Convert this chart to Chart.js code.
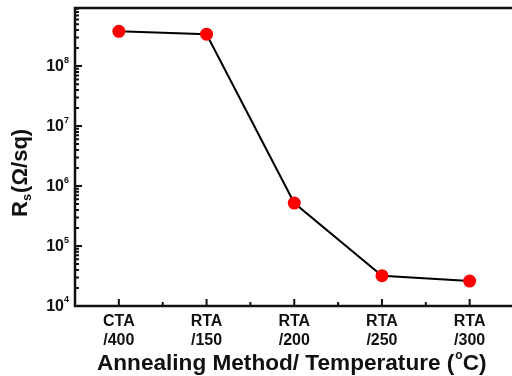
<!DOCTYPE html>
<html>
<head>
<meta charset="utf-8">
<script src="https://cdn.jsdelivr.net/npm/chart.js@4"></script>
<style>
  html, body { margin: 0; padding: 0; background: #fff; overflow: hidden; }
  #wrap { width: 520px; height: 376px; }
</style>
</head>
<body>
<div id="wrap"><canvas id="c" width="520" height="376"></canvas></div>
<script>
// values
const categories = [['CTA', '/400'], ['RTA', '/150'], ['RTA', '/200'], ['RTA', '/250'], ['RTA', '/300']]
const sheetResistance = [3.8e8, 3.4e8, 5.2e5, 3.2e4, 2.6e4]
const decades = [1e4, 1e5, 1e6, 1e7, 1e8]
const decadeExponents = ['4', '5', '6', '7', '8']

const FONT = 'Liberation Sans, Arial, sans-serif'
const INK = '#111'

// inward ticks, frame and hand placed labels (superscripts / subscripts)
var decor = {
  id: 'decor',
  afterDraw: function (chart) {
    const ctx = chart.ctx
    const a = chart.chartArea
    const x = chart.scales.x
    const y = chart.scales.y
    ctx.save()
    ctx.strokeStyle = INK
    ctx.lineWidth = 2.5
    ctx.strokeRect(a.left, a.top, a.right - a.left, a.bottom - a.top)

    // y ticks, major + minor
    ctx.lineWidth = 2
    ctx.beginPath()
    decades.forEach(function (d) {
      const py = y.getPixelForValue(d)
      ctx.moveTo(a.left, py); ctx.lineTo(a.left + 7, py)
      for (let m = 2; m <= 9; m++) {
        const my = y.getPixelForValue(d * m)
        if (my < a.top) break
        ctx.moveTo(a.left, my); ctx.lineTo(a.left + 4, my)
      }
    })
    // x ticks
    categories.forEach(function (c, i) {
      const px = x.getPixelForValue(i)
      ctx.moveTo(px, a.bottom); ctx.lineTo(px, a.bottom - 7)
      const bx = px + (x.getPixelForValue(1) - x.getPixelForValue(0)) / 2
      ctx.moveTo(bx, a.bottom); ctx.lineTo(bx, a.bottom - 4)
    })
    ctx.stroke()

    // y tick labels 10^n
    ctx.fillStyle = INK
    ctx.textBaseline = 'middle'
    decades.forEach(function (d, i) {
      const py = y.getPixelForValue(d)
      ctx.font = 'bold 9px ' + FONT
      ctx.textAlign = 'left'
      ctx.fillText(decadeExponents[i], 64, py - 6)
      ctx.font = 'bold 16px ' + FONT
      ctx.textAlign = 'right'
      ctx.fillText('10', 64, py + 1)
    })

    // x title
    ctx.textAlign = 'left'
    ctx.textBaseline = 'alphabetic'
    ctx.font = 'bold 22.6px ' + FONT
    const t1 = 'Annealing Method/ Temperature ('
    let tx = 97
    ctx.fillText(t1, tx, 370)
    tx += ctx.measureText(t1).width
    ctx.font = 'bold 12px ' + FONT
    ctx.fillText('o', tx + 1, 359)
    tx += ctx.measureText('o').width + 1
    ctx.font = 'bold 22.6px ' + FONT
    ctx.fillText('C)', tx, 370)

    // y title, rotated
    ctx.translate(27, 217)
    ctx.rotate(-Math.PI / 2)
    ctx.font = 'bold 22px ' + FONT
    let ty = 0
    ctx.fillText('R', ty, 0)
    ty += ctx.measureText('R').width
    ctx.font = 'bold 13px ' + FONT
    ctx.fillText('s', ty, 4)
    ty += ctx.measureText('s').width + 1
    ctx.font = 'bold 22px ' + FONT
    ctx.fillText('(\u03A9/sq)', ty, 0)
    ctx.restore()
  }
}

new Chart(document.getElementById('c').getContext('2d'), {
  type: 'line',
  data: {
    labels: categories,
    datasets: [{
      data: sheetResistance,
      borderColor: '#000',
      borderWidth: 2,
      lineTension: 0,
      fill: false,
      pointRadius: 6.5,
      pointBackgroundColor: '#ff0000',
      pointBorderWidth: 0
    }]
  },
  options: {
    responsive: false,
    animation: false,
    layout: { padding: { top: 8, right: 5, left: 0, bottom: 0 } },
    plugins: { legend: { display: false }, tooltip: { enabled: false } },
    scales: {
      x: {
        type: 'category',
        offset: true,
        grid: { display: false },
        border: { display: false },
        ticks: {
          color: INK,
          padding: -2,
          maxRotation: 0,
          font: { family: FONT, size: 16, weight: 'bold', lineHeight: 1.2 }
        },
        afterFit: function (s) { s.height = 70 }
      },
      y: {
        type: 'logarithmic',
        min: 1e4,
        max: 9.3e8,
        grid: { display: false },
        border: { display: false },
        ticks: { display: false },
        afterFit: function (s) { s.width = 75 }
      }
    }
  },
  plugins: [decor]
})
</script>
</body>
</html>
